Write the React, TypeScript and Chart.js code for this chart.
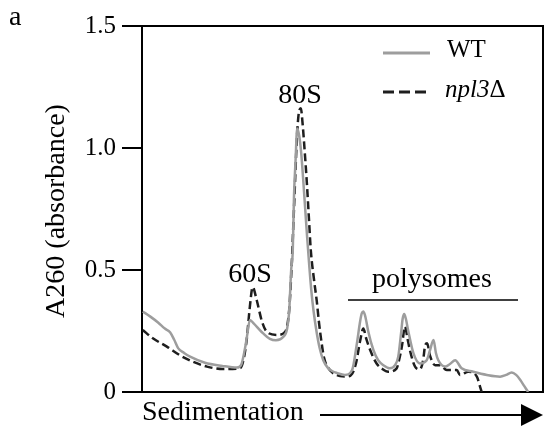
import React, { useEffect, useRef } from "react";
import { Chart, registerables } from "chart.js";

Chart.register(...registerables);

// Sedimentation position (0–100 % of gradient) and A260 values
const wtX = [0.2, 2.0, 4.0, 5.7, 7.0, 8.0, 9.0, 10.5, 12.0, 15.7, 20.0, 23.7, 24.7, 25.7, 26.2, 26.9, 27.9, 29.9, 31.9, 33.4, 35.2, 36.2, 36.7, 37.2, 37.6, 37.9, 38.3, 38.7, 39.2, 39.7, 40.2, 40.7, 41.2, 41.7, 42.2, 42.8, 43.5, 44.3, 45.2, 46.3, 47.5, 48.6, 50.6, 52.4, 53.6, 54.4, 54.8, 55.2, 55.6, 56.0, 56.4, 57.7, 58.9, 60.2, 61.8, 63.1, 63.9, 64.6, 65.0, 65.4, 65.8, 66.4, 67.7, 69.3, 71.0, 71.8, 72.7, 73.3, 73.9, 75.6, 76.8, 78.1, 79.7, 82.6, 86.0, 89.3, 90.8, 92.2, 93.3, 94.3, 95.3, 96.3];
const wtY = [0.33, 0.31, 0.285, 0.26, 0.245, 0.215, 0.18, 0.16, 0.145, 0.12, 0.107, 0.1, 0.11, 0.18, 0.23, 0.295, 0.28, 0.245, 0.218, 0.212, 0.225, 0.26, 0.33, 0.5, 0.58, 0.8, 0.95, 1.08, 1.05, 0.98, 0.87, 0.75, 0.63, 0.52, 0.42, 0.33, 0.25, 0.18, 0.13, 0.1, 0.085, 0.078, 0.07, 0.09, 0.2, 0.29, 0.322, 0.33, 0.315, 0.285, 0.25, 0.172, 0.13, 0.11, 0.097, 0.11, 0.145, 0.24, 0.3, 0.32, 0.3, 0.25, 0.158, 0.117, 0.13, 0.17, 0.213, 0.16, 0.13, 0.104, 0.115, 0.13, 0.097, 0.083, 0.07, 0.063, 0.07, 0.08, 0.07, 0.05, 0.025, 0.0];

const mutX = [0.2, 2.7, 6.2, 9.5, 12.7, 16.2, 20.2, 24.4, 25.2, 26.1, 26.9, 27.6, 28.6, 29.9, 31.1, 33.6, 35.7, 36.7, 37.3, 37.9, 38.6, 39.0, 39.6, 40.1, 40.6, 41.1, 41.6, 42.1, 42.9, 43.6, 44.1, 44.8, 45.4, 46.4, 47.6, 49.4, 50.9, 52.4, 53.4, 54.4, 55.2, 55.9, 56.9, 58.5, 59.9, 61.4, 63.5, 64.1, 64.8, 65.6, 66.2, 66.8, 68.1, 69.3, 70.1, 70.6, 71.1, 71.8, 73.1, 74.3, 76.0, 78.5, 79.3, 81.4, 83.5, 84.3, 84.7];
const mutY = [0.254, 0.22, 0.186, 0.15, 0.124, 0.104, 0.094, 0.097, 0.124, 0.213, 0.35, 0.43, 0.377, 0.29, 0.247, 0.234, 0.247, 0.336, 0.51, 0.75, 1.03, 1.13, 1.163, 1.09, 0.98, 0.86, 0.72, 0.58, 0.46, 0.37, 0.29, 0.2, 0.14, 0.1, 0.078, 0.065, 0.063, 0.075, 0.12, 0.21, 0.26, 0.22, 0.172, 0.117, 0.095, 0.083, 0.097, 0.13, 0.186, 0.268, 0.22, 0.172, 0.104, 0.093, 0.13, 0.19, 0.2, 0.15, 0.11, 0.11, 0.09, 0.09, 0.07, 0.083, 0.063, 0.022, 0.0];

const yTicks = [0, 0.5, 1.0, 1.5];
const yTickLabels = ["0", "0.5", "1.0", "1.5"];
const seriesNames = ["WT", "npl3"];

const SERIF = "'Liberation Serif', 'Times New Roman', serif";
const GRAY = "#9d9d9d";
const DARK = "#1e1e1e";

const decor = {
  id: "decor",
  afterDraw(chart: any) {
    const { ctx, chartArea } = chart;
    const { left, right, top, bottom } = chartArea;
    ctx.save();
    // top and right frame
    ctx.strokeStyle = "#000";
    ctx.lineWidth = 2;
    ctx.beginPath();
    ctx.moveTo(left, top);
    ctx.lineTo(right, top);
    ctx.lineTo(right, bottom);
    ctx.stroke();

    ctx.fillStyle = "#000";
    ctx.textBaseline = "alphabetic";
    ctx.font = `28px ${SERIF}`;
    ctx.textAlign = "left";
    ctx.fillText("a", 9, 25);

    // peak labels
    ctx.textAlign = "center";
    ctx.fillText("80S", 300, 103);
    ctx.fillText("60S", 250, 282);
    ctx.textAlign = "left";
    ctx.fillText("polysomes", 372, 287);
    ctx.lineWidth = 1.5;
    ctx.beginPath();
    ctx.moveTo(348, 300);
    ctx.lineTo(518, 300);
    ctx.stroke();

    // legend
    ctx.lineWidth = 3;
    ctx.strokeStyle = GRAY;
    ctx.beginPath();
    ctx.moveTo(383, 53);
    ctx.lineTo(430, 53);
    ctx.stroke();
    ctx.strokeStyle = DARK;
    ctx.setLineDash([11, 5]);
    ctx.beginPath();
    ctx.moveTo(383, 92);
    ctx.lineTo(430, 92);
    ctx.stroke();
    ctx.setLineDash([]);
    ctx.font = `25px ${SERIF}`;
    ctx.fillText(seriesNames[0], 447, 57);
    ctx.font = `italic 25px ${SERIF}`;
    ctx.fillText(seriesNames[1], 445, 97);
    const w = ctx.measureText(seriesNames[1]).width;
    ctx.font = `25px ${SERIF}`;
    ctx.fillText("Δ", 445 + w, 97);

    // x-axis label and arrow
    ctx.font = `28px ${SERIF}`;
    ctx.fillText("Sedimentation", 142, 420);
    ctx.strokeStyle = "#000";
    ctx.lineWidth = 2;
    ctx.beginPath();
    ctx.moveTo(320, 415);
    ctx.lineTo(525, 415);
    ctx.stroke();
    ctx.beginPath();
    ctx.moveTo(543, 415);
    ctx.lineTo(521, 404);
    ctx.lineTo(521, 426);
    ctx.closePath();
    ctx.fill();

    // y-axis title
    ctx.translate(57, 211);
    ctx.rotate(-Math.PI / 2);
    ctx.textAlign = "center";
    ctx.textBaseline = "middle";
    ctx.fillText("A260 (absorbance)", 0, 0);
    ctx.restore();
  },
};

export default function App() {
  const ref = useRef<HTMLCanvasElement>(null);
  useEffect(() => {
    if (!ref.current) return;
    const chart = new Chart(ref.current, {
      type: "line",
      data: {
        datasets: [
          {
            label: seriesNames[0],
            data: wtX.map((x, i) => ({ x, y: wtY[i] })),
            borderColor: GRAY,
            borderWidth: 2.5,
            pointRadius: 0,
            cubicInterpolationMode: "monotone",
            fill: false,
          },
          {
            label: seriesNames[1] + "Δ",
            data: mutX.map((x, i) => ({ x, y: mutY[i] })),
            borderColor: DARK,
            borderWidth: 2.5,
            borderDash: [8, 4],
            pointRadius: 0,
            cubicInterpolationMode: "monotone",
            fill: false,
          },
        ],
      },
      options: {
        animation: false,
        responsive: false,
        devicePixelRatio: 1,
        layout: { padding: { top: 26, right: 1, left: 0, bottom: 0 } },
        plugins: { legend: { display: false }, tooltip: { enabled: false }, title: { display: false } },
        scales: {
          x: {
            type: "linear",
            min: 0,
            max: 100,
            ticks: { display: false },
            grid: { display: false },
            border: { display: true, color: "#000", width: 2 },
            afterFit: (s: any) => {
              s.height = 39;
            },
          },
          y: {
            type: "linear",
            min: 0,
            max: 1.5,
            afterBuildTicks: (s: any) => {
              s.ticks = yTicks.map((v) => ({ value: v }));
            },
            ticks: {
              color: "#000",
              font: { family: SERIF, size: 25 },
              padding: 6,
              callback: (v: any) => {
                const i = yTicks.indexOf(Number(v));
                return i >= 0 ? yTickLabels[i] : "";
              },
            },
            grid: { drawOnChartArea: false, drawTicks: true, tickLength: 20, color: "#000", lineWidth: 2 },
            border: { display: true, color: "#000", width: 2 },
            afterFit: (s: any) => {
              s.width = 142;
            },
          },
        },
      },
      plugins: [decor],
    });
    return () => chart.destroy();
  }, []);
  return (
    <div style={{ position: "fixed", left: 0, top: 0, width: 544, height: 431, background: "#fff" }}>
      <canvas ref={ref} width={544} height={431} />
    </div>
  );
}
